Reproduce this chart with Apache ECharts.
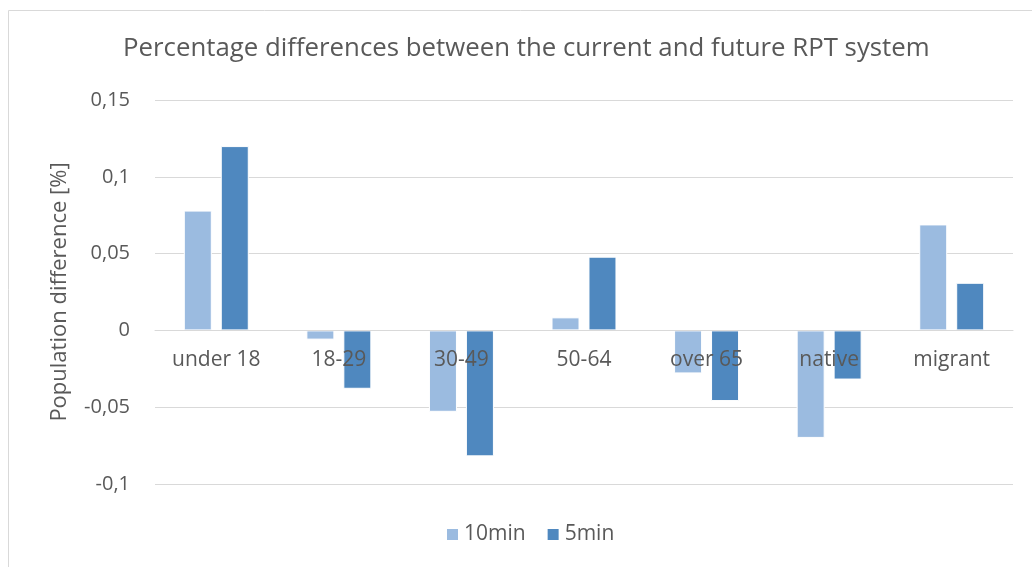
<!DOCTYPE html>
<html>
<head>
<meta charset="utf-8">
<script src="https://cdn.jsdelivr.net/npm/echarts@6/dist/echarts.min.js"></script>
<style>
	html, body { margin: 0; padding: 0; background: #fff; }
	#chart { width: 1032px; height: 567px; }
</style>
</head>
<body>
<div id="chart"></div>
<script>
	// data
	var categories = ['under 18', '18-29', '30-49', '50-64', 'over 65', 'native', 'migrant'];
	var min10 = [0.078, -0.006, -0.053, 0.0085, -0.028, -0.070, 0.069];
	var min5 = [0.120, -0.038, -0.082, 0.048, -0.046, -0.032, 0.031];

	var textColor = '#595959';
	var font = '"Open Sans", "Noto Sans", sans-serif';

	var myChart = echarts.init(document.getElementById('chart'));
	var option = {
		animation: false,
		textStyle: { fontFamily: font, color: textColor },
		graphic: [{
			type: 'rect',
			shape: { x: 8.5, y: 10.5, width: 1030, height: 570 },
			style: { fill: 'none', stroke: '#d9d9d9', lineWidth: 1 }
		}],
		title: {
			text: 'Percentage differences between the current and future RPT system',
			left: 118,
			top: 31,
			textStyle: { fontFamily: font, fontSize: 25.8, fontWeight: 'normal', color: textColor }
		},
		legend: {
			bottom: 17,
			left: 440,
			itemWidth: 13,
			itemHeight: 13,
			itemGap: 20,
			icon: 'rect',
			textStyle: { fontFamily: font, fontSize: 21, color: textColor },
			data: ['10min', '5min']
		},
		grid: {
			left: 155,
			right: 19,
			top: 100,
			bottom: 83
		},
		xAxis: {
			type: 'category',
			data: categories,
			position: 'bottom',
			offset: -154, // sits on the zero line
			axisLine: { onZero: false, lineStyle: { color: '#d9d9d9' } },
			axisTick: { show: false },
			axisLabel: { fontFamily: font, fontSize: 21, color: textColor, margin: 20 },
			z: 10
		},
		yAxis: {
			type: 'value',
			min: -0.1,
			max: 0.15,
			interval: 0.05,
			name: 'Population difference [%]',
			nameLocation: 'middle',
			nameGap: 84,
			nameTextStyle: { fontFamily: font, fontSize: 22, color: textColor },
			axisLine: { show: false },
			axisTick: { show: false },
			splitLine: { lineStyle: { color: '#d9d9d9' } },
			axisLabel: {
				fontFamily: font,
				fontSize: 20,
				color: textColor,
				margin: 25,
				formatter: function(v) {
					return String(Math.round(v * 100) / 100).replace('.', ',');
				}
			}
		},
		series: [{
			name: '10min',
			type: 'bar',
			data: min10,
			barWidth: 28,
			barGap: '32%',
			z: 3,
			itemStyle: { color: '#9bbbe0', borderColor: '#ffffff', borderWidth: 1 }
		}, {
			name: '5min',
			type: 'bar',
			data: min5,
			barWidth: 28,
			z: 3,
			itemStyle: { color: '#4f88bf', borderColor: '#ffffff', borderWidth: 1 }
		}]
	};
	myChart.setOption(option);
</script>
</body>
</html>
